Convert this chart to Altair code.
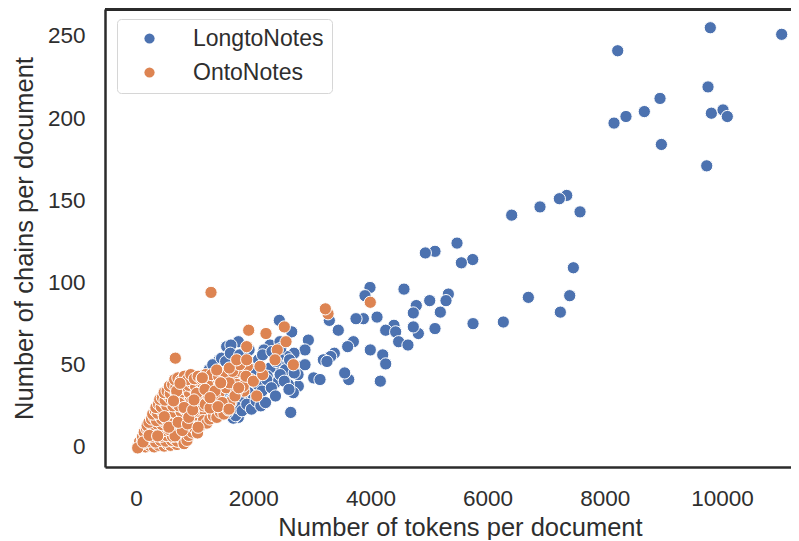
import altair as alt
import pandas as pd

blue_x = [11018,9800,8220,9761,8942,8674,8361,8157,9818,10017,10090,8965,9739,7350,7224,6894,7577,
 6411,7463,5478,5102,4937,5746,5552,5330,5290,5012,5193,4783,4732,4573,3993,3908,4113,3880,3754,5102,4818,4732,4402,4261,4431,4482,4641,3998,4210,4261,4169,3630,3561,3709,3612,3452,3299,5751,6268,6695,7401,7241,
 2941,2884,3384,3322,3197,3259,3032,3140,
 2446,2657,2696,2287,2184,2457,1547,1746,1620,1422,2770,2600,2514,2372,2685,2640,2799,2884,2628,2765,2429,2287,2543,2571,2429,2172,2000,1911,1746,1660,1718,1700,1790,
 1180,1250,1310,1390,1460,1530,1610,1690,1770,1850,1930,2010,2090,2160,2240,2320,2390,2470,2550,2620,2700,
 1250,1340,1420,1510,1590,1670,1760,1840,1920,2000,2080,2150,2230,2310,2380,2460,2530,2610,
 1040,1130,1210,1300,1380,1470,1560,1640,1730,1810,1890,1970,2050,2130,2210]
blue_y = [251,255,241,219,212,204,201,197,203,205,201,184,171,153,151,146,143,
 141,109,124,119,118,114,112,93,89,89,82,86,81.5,96,97,92,79,78,78,72,69,73,74,71,70,64,62,59,56,50.5,40,41,45,64,61,71,77,75,76,91,92,82,
 65,59,57,55,53,52,42,41,
 77,70,57,62,59,64,61,64,62,53,37,38,42,39,33,21,49,50,46,44,49,48,50,55,55,36,33,30,18,17.5,25,19,28,
 44,47,50,46,54,52,57,49,56,51,59,47,53,56,43,58,52,60,47,53,45,
 26,30,24,32,28,35,30,37,33,29,38,34,41,36,31,44,40,35,
 18,22,17,25,20,27,21,29,24,22,26,23,28,25,27]

orange_x = [30,70,95,130,160,190,230,260,310,350,390,440,480,530,590,640,700,760,
 60,110,140,175,215,250,290,335,375,420,465,510,560,610,655,705,750,800,
 110,150,185,225,265,300,345,385,430,470,520,565,620,665,715,770,825,880,
 140,180,220,255,295,340,380,425,475,515,570,625,670,720,775,830,890,945,
 190,235,270,315,360,400,445,490,540,595,650,695,745,800,860,915,975,1040,
 220,265,310,350,395,440,485,530,585,635,690,740,795,855,905,965,1030,1095,
 285,330,370,415,460,505,560,610,665,720,770,825,880,940,1000,1065,1140,
 340,385,430,480,525,575,630,685,735,790,845,905,960,1020,1085,1150,1220,
 405,450,495,550,600,655,710,760,815,870,930,985,1050,1115,1185,1260,1330,
 480,530,585,640,690,745,800,855,910,970,1030,1095,1165,1230,1300,1370,
 570,625,680,730,785,840,900,955,1015,1080,1145,1210,1280,1350,1430,
 660,715,770,825,880,935,995,1060,1125,1190,1260,1330,1400,1480,
 820,870,900,960,1010,1050,1100,1150,1210,1260,1320,1380,1440,1500,1560,1620,
 1180,1240,1300,1360,1420,1480,1540,1600,1660,1720,1780,1840,1900,1960,
 1220,1290,1350,1410,1470,1530,1590,1650,1710,1770,1830,
 29,120,225,370,483,666,560,790,720,880,979,950,694,1035,751,640,820,900,1060,
 1132,1377,1445,1263,1575,1132,1177,968,990,1400,1348,1263,1587,1689,1752,1445,1592,1718,1877,2002,2060,2162,2116,1889,1889,1923,2218,2531,2560,2411,2372,2685,
 1280,671,3998,3277,3231]
orange_y = [0,1,0.5,1.5,0,2,1,3,0,2,1,3,0.5,2,1,3,1.5,3,
 3,4,2.5,5,3.5,6,4.5,3,6,4,5.5,3.5,6.5,4,5,3.5,6,4.5,
 6,8,7,9,6.5,8.5,7.5,9.5,6.5,8,7,10,6.5,8.5,7,9.5,7.5,8,
 9,11,10,12,9.5,12.5,10.5,12,10,13,10.5,12,10,13,11,11.5,10,12,
 13,15,13.5,16,14,16.5,13.5,15,14,16.5,13.5,15.5,14,16,14.5,13.5,16,15,
 15,17,18,16,19,17,19.5,16.5,18.5,17,20,17.5,19,17,20,17.5,19,18,
 20,22,20.5,23,21,23.5,21,22.5,21,24,21.5,23,21,24,22,21.5,23,
 24,26,24.5,27,25,27.5,25,26.5,25,28,25.5,27,25,28,26,25,27,
 29,30,28.5,31,29,32,29.5,31,29,32,30,31,29,32,30,29,31,
 33,34,32.5,35,33,36,33.5,35,33,36,34,35,33,36,34,35,
 37,38,36.5,39,37,40,37.5,39,37,40,38,39,37,40,38,
 41,42,40.5,43,41,44,41.5,43,41,44,42,43,41,44,
 2,4,7,9,11,8.5,13,16,14.5,17,19,18,21,20,24,27,
 26,31,37,28,33,41,36,27,43,38,46,34,49,41,
 38,44,30,43,27,45,39,46,33,50,37,
 -0.6,3,7,6.7,18.4,6.7,12,10,15,14,21.5,27.5,34,32.6,38.7,28,24,18,12,
 42,46.8,39,23.7,22.5,42,35,22.5,28.6,24.5,34,30,23,31,36,39,48,53,43,40,31,44,49,53,61,71,69,73,64,59,53,50,
 94,54,88,81,84]

df = pd.concat([
    pd.DataFrame({"x": blue_x, "y": blue_y, "s": "LongtoNotes"}),
    pd.DataFrame({"x": orange_x, "y": orange_y, "s": "OntoNotes"}),
], ignore_index=True)
df["o"] = range(len(df))

FONT = "Liberation Sans"
TXT = "#2e2e2e"
FRAME = "#2b2b2b"
W, H = 686, 458

points = alt.Chart(df).mark_point(filled=True, opacity=1, size=150, stroke="white", strokeWidth=1).encode(
    x=alt.X("x:Q", scale=alt.Scale(domain=[-529, 11177], nice=False, zero=False),
            axis=alt.Axis(title="Number of tokens per document", values=[0,2000,4000,6000,8000,10000],
                          format="d", grid=False, ticks=False, domain=True, domainColor=FRAME, domainWidth=2.5,
                          labelFontSize=22.5, titleFontSize=25.5, titleFontWeight="normal",
                          labelPadding=20, titlePadding=6, titleX=355,
                          labelColor=TXT, titleColor=TXT, labelFont=FONT, titleFont=FONT)),
    y=alt.Y("y:Q", scale=alt.Scale(domain=[-12.2, 266.4], nice=False, zero=False),
            axis=alt.Axis(title="Number of chains per document", values=[0,50,100,150,200,250],
                          grid=False, ticks=False, domain=True, domainColor=FRAME, domainWidth=2.5,
                          labelFontSize=22.5, titleFontSize=25.5, titleFontWeight="normal",
                          labelPadding=20, titlePadding=10,
                          labelColor=TXT, titleColor=TXT, labelFont=FONT, titleFont=FONT)),
    color=alt.Color("s:N", scale=alt.Scale(domain=["LongtoNotes","OntoNotes"], range=["#4c72b0","#dd8452"]),
                    legend=alt.Legend(title=None, orient="none", legendX=12, legendY=10, padding=8,
                                      strokeColor="#d6d6d6", fillColor="white", cornerRadius=4,
                                      labelFontSize=23, labelFont=FONT, labelColor=TXT,
                                      symbolOffset=13, labelOffset=32, rowPadding=10, symbolSize=105,
                                      symbolType="circle", symbolStrokeWidth=0)),
    order=alt.Order("o:Q"),
)
top = alt.Chart(df).mark_rule(color=FRAME, strokeWidth=2.5).encode(
    x=alt.value(0), x2=alt.value(W), y=alt.value(0))

chart = alt.layer(points, top).properties(
    width=W, height=H, autosize="none",
    padding={"left": 97, "top": 1, "right": 0, "bottom": 73}
).configure_view(stroke=None).configure(background="white")

chart.save("out.html", embed_options={"renderer": "svg", "actions": False})
